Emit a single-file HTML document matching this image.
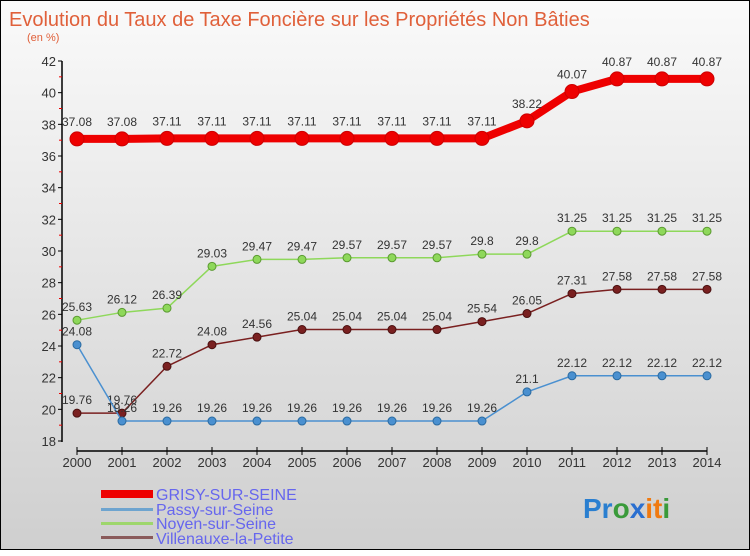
<!DOCTYPE html>
<html><head><meta charset="utf-8"><style>
body{margin:0;width:750px;height:550px;overflow:hidden;font-family:"Liberation Sans",sans-serif}
#c{position:absolute;left:0;top:0;width:748px;height:548px;border:1px solid #000;background:linear-gradient(#fafafa,#cfcfcf)}
</style></head><body>
<div id="c">
<svg width="750" height="550" id="s">
<text x="8" y="25" font-size="20" fill="#e0603a">Evolution du Taux de Taxe Foncière sur les Propriétés Non Bâties</text>
<text x="26" y="40" font-size="11" fill="#e0603a">(en %)</text>
<g id="ax"></g><g id="ser"></g>
<g font-size="16" fill="#6666ee">
<rect x="100" y="489" width="52" height="8" fill="#ee0000"/>
<text x="155" y="499">GRISY-SUR-SEINE</text>
<rect x="100" y="507" width="52" height="3" fill="#6ea4cf"/>
<text x="155" y="514">Passy-sur-Seine</text>
<rect x="100" y="521" width="52" height="3" fill="#9ed66c"/>
<text x="155" y="528">Noyen-sur-Seine</text>
<rect x="100" y="535" width="52" height="3" fill="#8a5a5a"/>
<text x="155" y="543">Villenauxe-la-Petite</text>
</g>
<text x="582" y="517" font-size="28" font-weight="bold"><tspan fill="#2a7fd0">Pr</tspan><tspan fill="#3a9a3a">o</tspan><tspan fill="#2a6fd0">x</tspan><tspan fill="#f07a10">it</tspan><tspan fill="#3a9a3a">i</tspan></text>
</svg></div>
<script>
const years=[2000,2001,2002,2003,2004,2005,2006,2007,2008,2009,2010,2011,2012,2013,2014];
const yTicks=[18,20,22,24,26,28,30,32,34,36,38,40,42];
const grisy=[37.08,37.08,37.11,37.11,37.11,37.11,37.11,37.11,37.11,37.11,38.22,40.07,40.87,40.87,40.87];
const passy=[24.08,19.26,19.26,19.26,19.26,19.26,19.26,19.26,19.26,19.26,21.1,22.12,22.12,22.12,22.12];
const noyen=[25.63,26.12,26.39,29.03,29.47,29.47,29.57,29.57,29.57,29.8,29.8,31.25,31.25,31.25,31.25];
const ville=[19.76,19.76,22.72,24.08,24.56,25.04,25.04,25.04,25.04,25.54,26.05,27.31,27.58,27.58,27.58];
const NS="http://www.w3.org/2000/svg";
const X=i=>76+i*(706-76)/(years.length-1);
const Y=v=>440-(v-18)*(380/24);
function mk(t,a,p){const e=document.createElementNS(NS,t);for(const k in a)e.setAttribute(k,a[k]);p.appendChild(e);return e;}
const ax=document.getElementById('ax');
let e=mk('line',{x1:61,y1:60,x2:61,y2:441,stroke:'#000','stroke-width':1.5},ax);


e=mk('line',{x1:76,y1:450,x2:706,y2:450,stroke:'#000','stroke-width':1.5},ax);


yTicks.forEach((v,i)=>{
 mk('line',{x1:57,y1:Y(v),x2:61,y2:Y(v),stroke:'#000'},ax);
 if(i<yTicks.length-1)mk('line',{x1:58,y1:Y(v+1),x2:61,y2:Y(v+1),stroke:'#e00'},ax);
 const t=mk('text',{x:55,y:Y(v)+5,'text-anchor':'end','font-size':13,fill:'#333'},ax);
 t.textContent=v;
 
 
});
years.forEach((y,i)=>{
 mk('line',{x1:X(i),y1:446,x2:X(i),y2:454,stroke:'#000'},ax);
 const t=mk('text',{x:X(i),y:466,'text-anchor':'middle','font-size':13,fill:'#333'},ax);
 t.textContent=y;
 
 
});
const ser=document.getElementById('ser');
function draw(d,name,col,dark,w,r){
 const g=mk('g',{},ser);
 
 
 mk('polyline',{points:d.map((v,i)=>X(i)+','+Y(v)).join(' '),fill:'none',stroke:col,'stroke-width':w,'stroke-linejoin':'round'},g);
 d.forEach((v,i)=>{
  const c=mk('circle',{cx:X(i),cy:Y(v),r:r,fill:col,stroke:dark,'stroke-width':1},g);
  
  
  const t=mk('text',{x:X(i),y:Y(v)-9-(r>5?4:0),'text-anchor':'middle','font-size':12,fill:'#333'},g);
  t.textContent=v;
  
  
 });
}
draw(noyen,'noyen','#8ed85a','#5a9a30',1.5,4);
draw(ville,'villenauxe','#7a2020','#4a1010',1.5,4);
draw(passy,'passy','#4a90d0','#2a6aa0',1.5,4);
draw(grisy,'grisy','#ee0000','#cc0000',8,7);
</script>
</body></html>
